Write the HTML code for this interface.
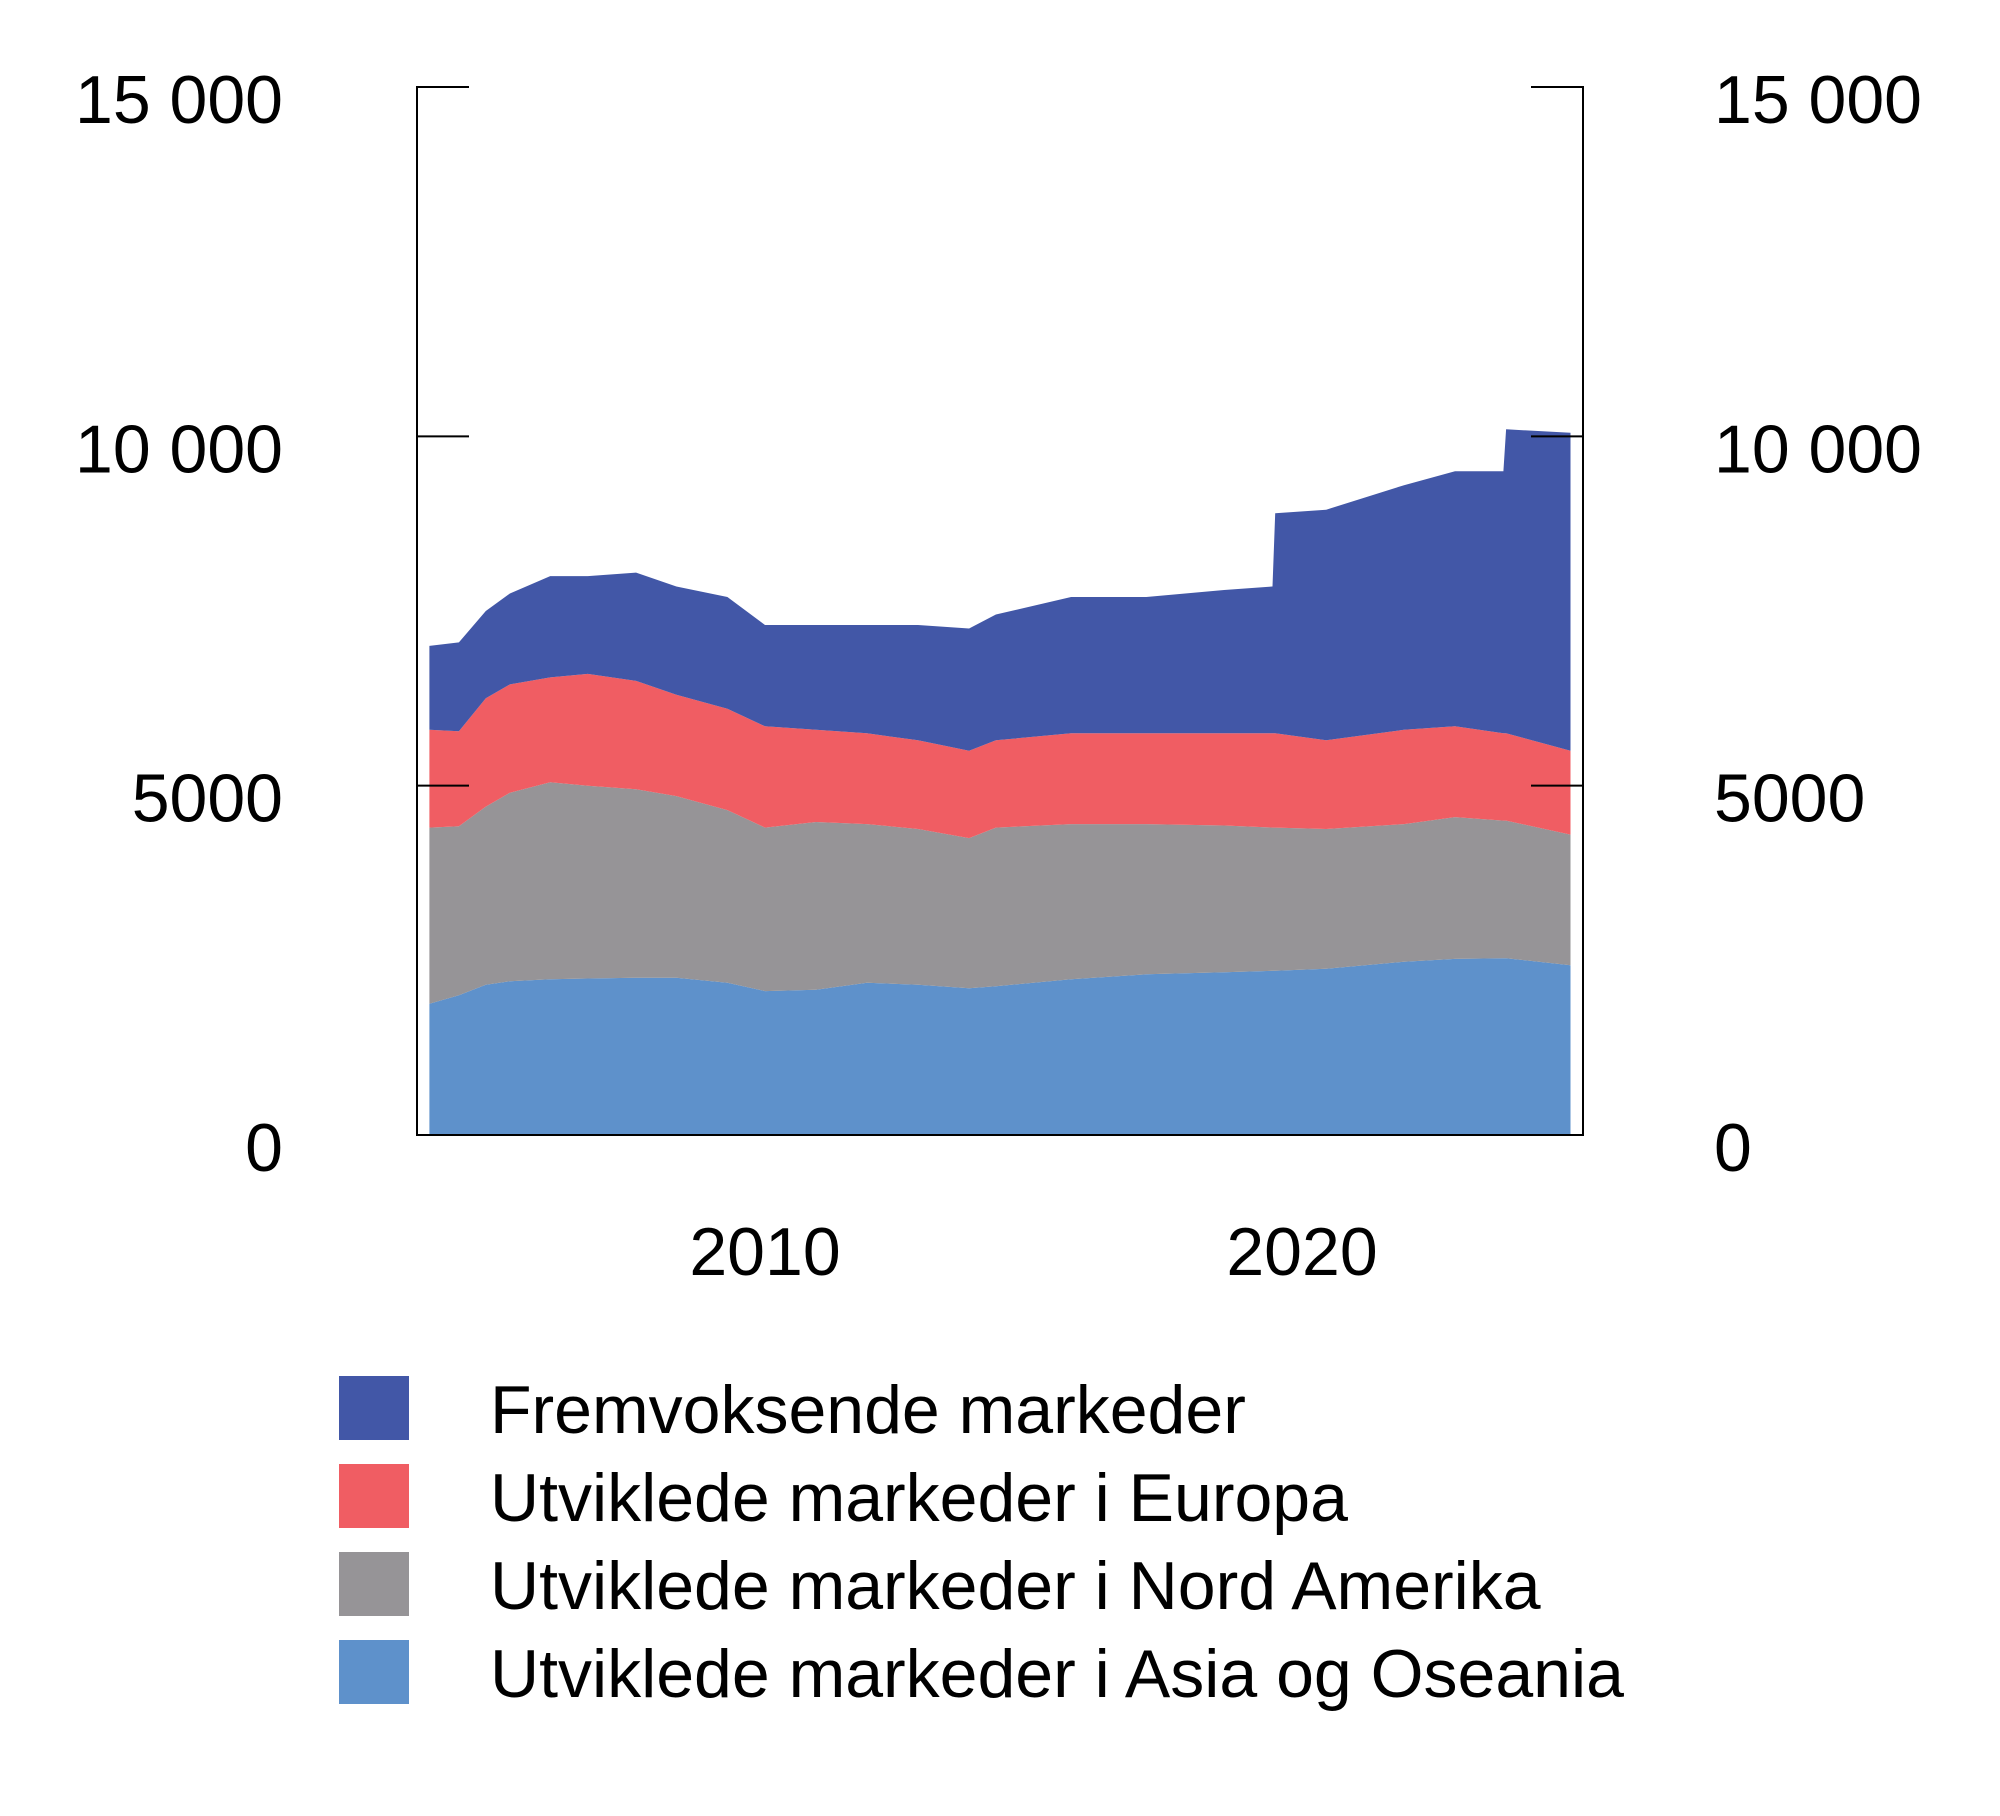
<!DOCTYPE html>
<html><head><meta charset="utf-8"><style>
body{margin:0;background:#fff;}
svg{display:block;font-family:"Liberation Sans",Arial,sans-serif;}
</style></head><body>
<svg id="chart" width="2000" height="1816" viewBox="0 0 2000 1816">
<g id="areas"></g>
<g id="axes"></g>
<g id="legend"></g>
</svg>
<script>
const years=[2003.75,2004.3,2004.8,2005.25,2006,2006.7,2007.6,2008.35,2009.3,2010,2010.95,2011.9,2012.85,2013.8,2014.3,2015.7,2017.1,2018.55,2019.45,2019.5,2020.45,2021.9,2022.85,2023.75,2023.8,2025];
const asia=[1880,2000,2150,2200,2230,2240,2250,2250,2180,2060,2080,2180,2150,2100,2130,2230,2300,2330,2350,2350,2380,2480,2520,2530,2530,2430];
const northAmerica=[2520,2420,2550,2700,2820,2760,2700,2600,2470,2340,2400,2270,2230,2150,2270,2220,2150,2100,2050,2050,2000,1970,2030,1970,1970,1870];
const europe=[1400,1360,1550,1550,1500,1600,1550,1450,1450,1450,1320,1300,1270,1250,1250,1300,1300,1320,1350,1350,1270,1350,1300,1250,1250,1200];
const emerging=[1200,1270,1250,1300,1450,1400,1550,1550,1600,1450,1500,1550,1650,1750,1800,1950,1950,2050,2100,3150,3300,3500,3650,3750,4350,4550];
const yTicks=[0,5000,10000,15000];
const yTickLabels=["0","5000","10 000","15 000"];
const xTicks=[2010,2020];
const seriesNames=["Fremvoksende markeder","Utviklede markeder i Europa","Utviklede markeder i Nord Amerika","Utviklede markeder i Asia og Oseania"];

const NS="http://www.w3.org/2000/svg";
const X0=417,X1=1583,Y0=1135,Y15=87;
const FS=68;
const xs=y=>765+(y-2010)*53.7;
const ys=v=>Y0-(v/15000)*(Y0-Y15);
function mk(tag,attrs,parent){const e=document.createElementNS(NS,tag);for(const k in attrs)e.setAttribute(k,attrs[k]);parent.appendChild(e);return e;}

const layers=[asia,northAmerica,europe,emerging];
const colors=["#5e91cb","#969497","#f05d63","#4257a7"];
const names=["area-asia-oceania","area-north-america","area-europe","area-emerging-markets"];
const areas=document.getElementById('areas');
let base=years.map(()=>0);
layers.forEach((arr,i)=>{
  const top=base.map((b,j)=>b+arr[j]);
  let d="M"+years.map((y,j)=>xs(y).toFixed(1)+","+ys(top[j]).toFixed(1)).join("L");
  for(let j=years.length-1;j>=0;j--)d+="L"+xs(years[j]).toFixed(1)+","+ys(base[j]).toFixed(1);
  d+="Z";
  const p=mk('path',{d:d,fill:colors[i]},areas);
  
  
  base=top;
});

const ax=document.getElementById('axes');
const frame=mk('path',{d:`M${X0},${Y15-1}V${Y0}H${X1}V${Y15-1}`,fill:"none",stroke:"#000","stroke-width":2},ax);


yTicks.forEach((v,i)=>{
  const y=ys(v);
  if(v>0){
    const tl=mk('line',{x1:X0,x2:X0+52,y1:y,y2:y,stroke:"#000","stroke-width":2},ax);
    
    
    const tr=mk('line',{x1:X1-52,x2:X1,y1:y,y2:y,stroke:"#000","stroke-width":2},ax);
    
    
  }
  const l=mk('text',{x:283,y:y+36,"text-anchor":"end","font-size":FS,fill:"#000"},ax);
  l.textContent=yTickLabels[i];
  
  
  const r=mk('text',{x:1714,y:y+36,"text-anchor":"start","font-size":FS,fill:"#000"},ax);
  r.textContent=yTickLabels[i];
  
  
});
xTicks.forEach(yr=>{
  const t=mk('text',{x:xs(yr),y:1275,"text-anchor":"middle","font-size":FS,fill:"#000"},ax);
  t.textContent=String(yr);
  
  
});

const lg=document.getElementById('legend');
const legColors=["#4257a7","#f05d63","#969497","#5e91cb"];
seriesNames.forEach((n,i)=>{
  const cy=1408+i*88;
  const r=mk('rect',{x:339,y:cy-32,width:70,height:64,fill:legColors[i]},lg);
  
  
  const t=mk('text',{x:490,y:cy+25,"font-size":FS,fill:"#000"},lg);
  t.textContent=n;
  
  
});
</script>
</body></html>
